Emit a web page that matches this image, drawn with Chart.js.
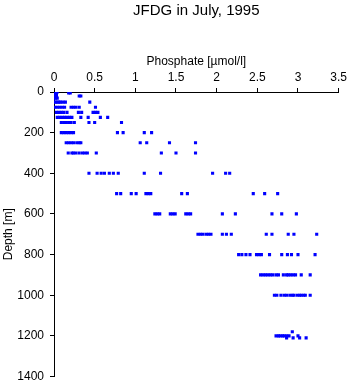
<!DOCTYPE html>
<html>
<head>
<meta charset="utf-8">
<script src="https://cdn.jsdelivr.net/npm/chart.js@4"></script>
<style>
  html, body { margin: 0; padding: 0; background: #fff; }
  #wrap { width: 350px; height: 384px; }
</style>
</head>
<body>
<div id="wrap"><canvas id="profile"></canvas></div>
<script>
// sampling depths (m) and the phosphate values measured at each depth
const depths = [0, 5, 10, 20, 30, 50, 75, 100, 125, 150, 200, 250, 300, 400, 500, 600, 700, 800, 900, 1000, 1180, 1200, 1210];
const phos0 = [0.0, 0.02, 0.04];
const phos5 = [0.18, 0.2];
const phos10 = [0.0, 0.02, 0.03];
const phos20 = [0.01, 0.03, 0.31, 0.33];
const phos30 = [0.0, 0.02, 0.04];
const phos50 = [0.0, 0.02, 0.04, 0.06, 0.08, 0.11, 0.14, 0.44];
const phos75 = [0.01, 0.04, 0.07, 0.10, 0.13, 0.21, 0.24, 0.27, 0.31, 0.51];
const phos100 = [0.03, 0.06, 0.09, 0.12, 0.16, 0.30, 0.34, 0.48, 0.51, 0.54];
const phos125 = [0.04, 0.07, 0.10, 0.13, 0.16, 0.19, 0.22, 0.33, 0.42, 0.57, 0.66];
const phos150 = [0.09, 0.12, 0.15, 0.18, 0.21, 0.25, 0.43, 0.50, 0.83];
const phos200 = [0.09, 0.12, 0.15, 0.18, 0.21, 0.24, 0.78, 0.85, 1.11, 1.20];
const phos250 = [0.15, 0.18, 0.21, 0.24, 0.28, 0.31, 0.33, 1.06, 1.14, 1.42, 1.74];
const phos300 = [0.175, 0.22, 0.24, 0.27, 0.31, 0.35, 0.38, 0.41, 0.52, 1.32, 1.50, 1.74];
const phos400 = [0.43, 0.53, 0.58, 0.62, 0.68, 0.73, 0.79, 1.11, 1.31, 1.95, 2.11, 2.16];
const phos500 = [0.77, 0.82, 0.95, 1.01, 1.13, 1.16, 1.19, 1.57, 1.64, 2.45, 2.59, 2.75];
const phos600 = [1.24, 1.27, 1.30, 1.43, 1.46, 1.49, 1.62, 1.65, 1.68, 2.07, 2.23, 2.68, 2.80, 2.98];
const phos700 = [1.77, 1.80, 1.83, 1.87, 1.90, 1.93, 2.07, 2.12, 2.18, 2.61, 2.68, 2.88, 2.95, 3.23];
const phos800 = [2.27, 2.31, 2.36, 2.41, 2.49, 2.52, 2.55, 2.65, 2.80, 2.87, 2.92, 3.00, 3.21];
const phos900 = [2.54, 2.57, 2.60, 2.63, 2.66, 2.69, 2.73, 2.76, 2.82, 2.86, 2.88, 2.91, 2.94, 2.97, 3.04, 3.15];
const phos1000 = [2.71, 2.74, 2.79, 2.83, 2.86, 2.90, 2.93, 2.95, 2.99, 3.02, 3.04, 3.07, 3.09, 3.15];
const phos1180 = [2.93];
const phos1200 = [2.73, 2.76, 2.78, 2.81, 2.83, 2.86, 2.89, 3.00];
const phos1210 = [2.86, 2.94, 3.02, 3.10];
const byDepth = [phos0, phos5, phos10, phos20, phos30, phos50, phos75, phos100, phos125, phos150,
  phos200, phos250, phos300, phos400, phos500, phos600, phos700, phos800, phos900, phos1000,
  phos1180, phos1200, phos1210];

const xTicks = [0, 0.5, 1, 1.5, 2, 2.5, 3, 3.5];
const yTicks = [0, 200, 400, 600, 800, 1000, 1200, 1400];

// flatten into scatter points
const points = [];
depths.forEach((d, i) => {
  byDepth[i].forEach(p => points.push({ x: p, y: d }));
});

Chart.defaults.font.family = "'Liberation Sans', Arial, sans-serif";
Chart.defaults.color = '#000';

// centre the main title over the plot area instead of the whole canvas
const titleOverPlot = {
  id: 'titleOverPlot',
  afterLayout(chart) {
    chart.titleBlock.left = chart.chartArea.left;
    chart.titleBlock.right = chart.chartArea.right;
  }
};

new Chart(document.getElementById('profile'), {
  type: 'scatter',
  data: {
    datasets: [{
      data: points,
      pointStyle: 'rect',
      radius: 2.2,
      borderWidth: 0,
      backgroundColor: '#0000ff'
    }]
  },
  options: {
    responsive: true,
    maintainAspectRatio: false,
    animation: false,
    layout: { padding: { left: 0, right: 4, top: 0, bottom: 0 } },
    plugins: {
      legend: { display: false },
      tooltip: { enabled: false },
      title: {
        display: true,
        text: 'JFDG in July, 1995',
        font: { size: 15, weight: 'normal' },
        padding: { top: 1.5, bottom: 31.3 }
      }
    },
    scales: {
      x: {
        type: 'linear',
        position: 'top',
        min: 0, max: 3.5,
        afterBuildTicks: s => { s.ticks = xTicks.map(v => ({ value: v })); },
        afterFit: s => { s.height = 41.2; },
        ticks: { font: { size: 12 }, padding: 3, maxRotation: 0, callback: v => String(v) },
        grid: { drawOnChartArea: false, color: '#000', tickLength: 4 },
        border: { color: '#000' },
        title: { display: true, text: 'Phosphate [µmol/l]', font: { size: 12 }, padding: { top: 4, bottom: 1 } }
      },
      y: {
        type: 'linear',
        reverse: true,
        min: 0, max: 1400,
        afterBuildTicks: s => { s.ticks = yTicks.map(v => ({ value: v })); },
        afterFit: s => { s.width = 54; s.paddingTop = 0; s.paddingBottom = 7.5; },
        ticks: { font: { size: 12 }, padding: 6, callback: v => String(v) },
        grid: { drawOnChartArea: false, color: '#000', tickLength: 4 },
        border: { color: '#000' },
        title: { display: true, text: 'Depth [m]', font: { size: 12 }, padding: { top: 1.5, bottom: 0 } }
      }
    }
  },
  plugins: [titleOverPlot]
});
</script>
</body>
</html>
